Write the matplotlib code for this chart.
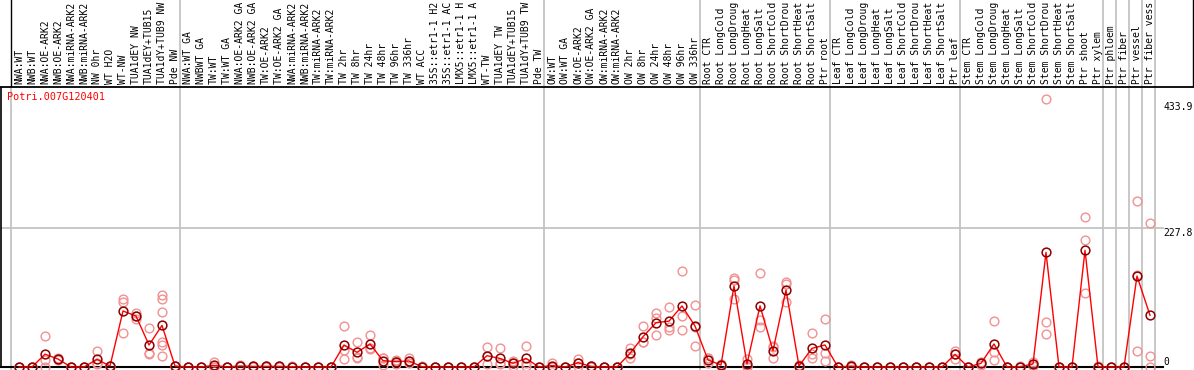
import matplotlib
matplotlib.use('Agg')
import matplotlib.pyplot as plt

# sample names (truncated to 14 chars, as in the source chart)
labels = [
    "NWA:WT", "NWB:WT", "NWA:OE-ARK2", "NWB:OE-ARK2", "NWA:miRNA-ARK2",
    "NWB:miRNA-ARK2", "NW 0hr", "WT H2O", "WT-NW", "TUA1dEY NW",
    "TUA1dEY+TUB15", "TUA1dY+TUB9 NW", "Pde NW",
    "NWA:WT GA", "NWBWT GA", "TW:WT", "TW:WT GA", "NWA:OE-ARK2 GA",
    "NWB:OE-ARK2 GA", "TW:OE-ARK2", "TW:OE-ARK2 GA", "NWA:miRNA-ARK2",
    "NWB:miRNA-ARK2", "TW:miRNA-ARK2", "TW:miRNA-ARK2", "TW 2hr", "TW 8hr",
    "TW 24hr", "TW 48hr", "TW 96hr", "TW 336hr", "WT ACC", "35S::etr1-1 H2",
    "35S::etr1-1 AC", "LMX5::etr1-1 H", "LMX5::etr1-1 A", "WT-TW",
    "TUA1dEY TW", "TUA1dEY+TUB15", "TUA1dY+TUB9 TW", "Pde TW",
    "OW:WT", "OW:WT GA", "OW:OE-ARK2", "OW:OE-ARK2 GA", "OW:miRNA-ARK2",
    "OW:miRNA-ARK2", "OW 2hr", "OW 8hr", "OW 24hr", "OW 48hr", "OW 96hr",
    "OW 336hr",
    "Root CTR", "Root LongCold", "Root LongDroug", "Root LongHeat",
    "Root LongSalt", "Root ShortCold", "Root ShortDrou", "Root ShortHeat",
    "Root ShortSalt", "Ptr root",
    "Leaf CTR", "Leaf LongCold", "Leaf LongDroug", "Leaf LongHeat",
    "Leaf LongSalt", "Leaf ShortCold", "Leaf ShortDrou", "Leaf ShortHeat",
    "Leaf ShortSalt", "Ptr leaf",
    "Stem CTR", "Stem LongCold", "Stem LongDroug", "Stem LongHeat",
    "Stem LongSalt", "Stem ShortCold", "Stem ShortDrou", "Stem ShortHeat",
    "Stem ShortSalt", "Ptr shoot", "Ptr xylem",
    "Ptr phloem", "Ptr fiber", "Ptr vessel", "Ptr fiber vess",
]

# mean expression per sample
means = [
    0, 0, 21, 13, 0, 0, 12.5, 1.5, 91.6, 83.4, 36, 68, 1.6,
    0, 0, 2.6, 0, 1.6, 1, 1, 1, 0.5, 0, 0, 0, 36, 24, 37.6, 10.4, 8.7, 9.8,
    0.5, 0, 0, 0, 0, 18.5, 14, 6, 14, 0,
    2.3, 0, 7, 1, 0, 0, 22.4, 49.6, 72.5, 75, 99.8, 67,
    11.5, 3.3, 132.5, 5, 100, 26.7, 126, 1.6, 30.5, 36,
    0, 1.5, 0, 0, 0, 0, 0, 0, 0, 20.7,
    0, 6, 37.6, 0, 0.5, 5, 187.5, 0, 0, 190.8, 0.5,
    0, 0, 148.8, 84.5,
]

# individual replicates per sample
replicates = [
    [0, 0, 0], [0, 0, 0], [50.7, 11, 0], [13, 12, 14], [0, 0, 0], [0, 0, 0],
    [26, 7, 4.5], [1.5, 2, 1], [112, 107, 55], [88, 84, 78],
    [63, 22.4, 21], [118, 112, 90, 41, 36, 18.5], [2, 1.5, 1],
    [0, 0, 0], [0, 0, 0], [7.7, 0, 0], [0, 0, 0], [3, 1, 1], [2, 1, 0],
    [2, 1, 0], [2, 1, 0], [1, 0.5, 0], [0, 0, 0], [0, 0, 0], [0, 0, 0],
    [67, 28, 13], [41, 16, 15], [52, 30.5, 30], [14, 14, 3.3], [11, 10, 5],
    [14, 9.5, 6], [1, 0.5, 0], [0, 0, 0], [0, 0, 0], [0, 0, 0], [0, 0, 0],
    [33, 18.5, 4.4], [30.5, 6, 5.5], [10, 6, 2], [34, 6, 2], [0, 0, 0],
    [7, 0, 0], [0, 0, 0], [12.6, 7, 1.4], [2, 1, 0], [0, 0, 0], [0, 0, 0],
    [30.5, 22, 15], [67, 41.4, 40.4], [89, 79.6, 52], [98.6, 66, 60],
    [157, 83.4, 60.5], [101, 66, 34],
    [14, 14, 6.5], [5, 3, 2], [145, 142, 112], [12.6, 2.4, 0],
    [154, 77, 66], [34, 32, 14], [139.5, 135.7, 107], [3, 1.5, 0],
    [56, 20.7, 15], [78, 22.4, 9.8],
    [0, 0, 0], [3, 1.5, 0], [0, 0, 0], [0, 0, 0], [0, 0, 0], [0, 0, 0],
    [0, 0, 0], [0, 0, 0], [0, 0, 0], [26, 22, 12.6],
    [0, 0, 0], [8, 6, 4], [75, 25, 11.5], [0, 0, 0], [1, 0.5, 0], [8, 5, 2],
    [439, 73, 53.5], [0, 0, 0], [0, 0, 0], [246, 207, 120.5], [1, 0.5, 0],
    [0, 0, 0], [0, 0, 0], [271, 150, 25.7], [235, 18, 0.5],
]

# last sample index of each group (separators drawn right after them)
group_ends = [-1, 12, 40, 52, 62, 72, 83, 84, 85, 86, 87]
y_ticks = [433.9, 227.8, 0]
gene = "Potri.007G120401"

# layout in pixels
W, H = 1194, 370
HEADER = 87
X0, STEP = 19, 13.0          # pixel of first sample, pixel spacing
ZERO, SCALE = 367, 0.6115    # pixel of value 0, pixels per unit
MONO = "DejaVu Sans Mono"
GRAY = "#c4c4c4"

fig = plt.figure(figsize=(W / 100, H / 100), dpi=100)
xlim = ((0 - X0) / STEP, (W - X0) / STEP)

ax = fig.add_axes([0, 0, 1, (H - HEADER) / H])
ax.set_xlim(*xlim)
ax.set_ylim((ZERO - H) / SCALE, (ZERO - HEADER) / SCALE)
ax.axis('off')

hdr = fig.add_axes([0, (H - HEADER) / H, 1, HEADER / H])
hdr.set_xlim(*xlim)
hdr.set_ylim(0, HEADER)
hdr.axis('off')

right_x = (1163 - X0) / STEP
left_x = (1.5 - X0) / STEP

# separators
for k in group_ends:
    sx = k + 0.36
    ax.axvline(sx, color=GRAY, lw=1.3, zorder=1)
    hdr.axvline(sx, color='black' if k < 0 else GRAY, lw=1.0 if k < 0 else 1.3)
hdr.axvline((1193 - X0) / STEP, color='black', lw=1.0)
hdr.axhline(0, color='black', lw=1.3, clip_on=False)

# frame and grid
ax.plot([left_x, left_x], [0, (ZERO - HEADER) / SCALE], color='black', lw=1.2)
ax.plot([left_x, right_x], [0, 0], color='black', lw=1.5, zorder=2)
ax.plot([left_x, right_x], [227.8, 227.8], color=GRAY, lw=1.3, zorder=1)

# labels
for i, lab in enumerate(labels):
    hdr.text(i, 3.5, lab, rotation=90, ha='center', va='bottom',
             family=MONO, fontsize=7)

# replicates
for i, reps in enumerate(replicates):
    ax.plot([i] * len(reps), reps, linestyle='none', marker='o', ms=6.3,
            mfc='none', mec='#f29090', mew=1.0, zorder=3)

# mean line
xs = list(range(len(means)))
ax.plot(xs, means, color='red', lw=1.0, zorder=4)
ax.plot(xs, means, linestyle='none', marker='o', ms=6.3, mfc='none',
        mec='#8a0000', mew=1.1, zorder=5)

for v in y_ticks:
    ax.text(right_x, v, f"{v:g}", ha='left', va='top' if v > 0 else 'bottom',
            family=MONO, fontsize=7)

ax.text((7 - X0) / STEP, (ZERO - 97) / SCALE, gene, color='red', ha='left',
        va='center', family=MONO, fontsize=7.3)

fig.savefig('out.png', dpi=100)
